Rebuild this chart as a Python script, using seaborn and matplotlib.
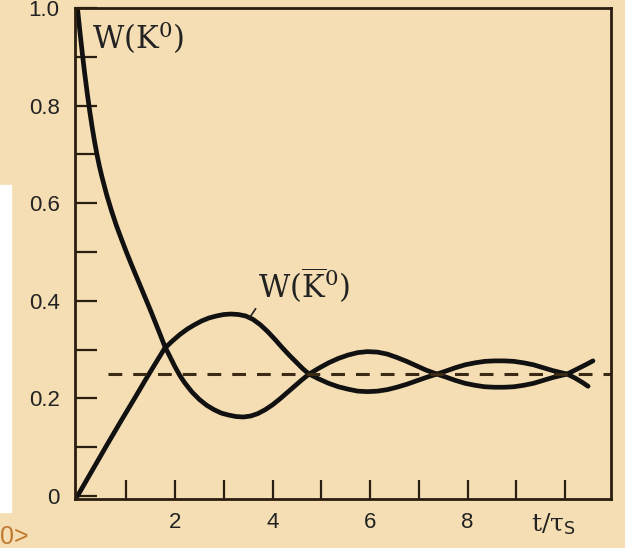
import numpy as np
import pandas as pd
import matplotlib
matplotlib.use("Agg")
import matplotlib.pyplot as plt
from matplotlib.patches import Rectangle
import seaborn as sns

# values (t in units of tau_S)
t_k0 = [0.0, 0.05, 0.1, 0.15, 0.2, 0.25, 0.3, 0.35, 0.4, 0.45, 0.5, 0.6, 0.7, 0.8, 0.9, 1.0,
        1.1, 1.2, 1.3, 1.4, 1.5, 1.6, 1.7, 1.79, 1.9, 2.0, 2.1, 2.2, 2.35, 2.5, 2.65,
        2.8, 2.95, 3.1, 3.25, 3.4, 3.55, 3.7, 3.85, 4.0, 4.15, 4.3, 4.45, 4.6, 4.75,
        4.95, 5.15, 5.35, 5.55, 5.75, 5.95, 6.15, 6.35, 6.55, 6.75, 6.95, 7.15, 7.37,
        7.55, 7.75, 7.95, 8.15, 8.35, 8.55, 8.75, 8.95, 9.15, 9.35, 9.55, 9.75, 10.04,
        10.2, 10.4, 10.57]
w_k0 = [1.0, 0.952, 0.907, 0.865, 0.826, 0.79, 0.757, 0.727, 0.70, 0.676, 0.655, 0.617, 0.584, 0.554, 0.527, 0.501,
        0.476, 0.452, 0.428, 0.404, 0.38, 0.355, 0.33, 0.307, 0.285, 0.265, 0.247, 0.232, 0.213, 0.198, 0.186,
        0.177, 0.17, 0.166, 0.163, 0.162, 0.164, 0.169, 0.177, 0.187, 0.199, 0.212, 0.225, 0.238, 0.25,
        0.262, 0.273, 0.282, 0.289, 0.294, 0.296, 0.295, 0.291, 0.284, 0.276, 0.267, 0.258, 0.25,
        0.244, 0.237, 0.231, 0.227, 0.224, 0.223, 0.223, 0.224, 0.227, 0.231, 0.237, 0.243, 0.25,
        0.258, 0.268, 0.277]

t_k0bar = [0.0, 0.3, 0.6, 0.9, 1.2, 1.4, 1.6, 1.79, 1.95, 2.1, 2.25, 2.4, 2.55, 2.7, 2.85, 3.0,
           3.15, 3.3, 3.45, 3.6, 3.75, 3.9, 4.05, 4.2, 4.35, 4.5, 4.62, 4.75,
           4.95, 5.15, 5.35, 5.55, 5.75, 5.95, 6.15, 6.35, 6.55, 6.75, 6.95, 7.15, 7.37,
           7.55, 7.75, 7.95, 8.15, 8.35, 8.55, 8.75, 8.95, 9.15, 9.35, 9.55, 9.75, 10.04,
           10.2, 10.35, 10.47]
w_k0bar = [0.0, 0.052, 0.104, 0.155, 0.205, 0.239, 0.272, 0.303, 0.318, 0.331, 0.342, 0.351, 0.359, 0.365, 0.369, 0.372,
           0.373, 0.372, 0.369, 0.362, 0.351, 0.337, 0.321, 0.304, 0.288, 0.273, 0.261, 0.25,
           0.24, 0.231, 0.224, 0.219, 0.215, 0.214, 0.215, 0.218, 0.223, 0.229, 0.236, 0.243, 0.25,
           0.256, 0.263, 0.269, 0.273, 0.276, 0.277, 0.277, 0.276, 0.273, 0.269, 0.263, 0.257, 0.25,
           0.242, 0.233, 0.225]

w_limit = 0.25
x_ticks = [1, 2, 3, 4, 5, 6, 7, 8, 9, 10]
x_labels = ["", "2", "", "4", "", "6", "", "8", "", ""]
y_ticks = [0, 0.1, 0.2, 0.3, 0.4, 0.5, 0.6, 0.7, 0.8, 0.9, 1.0]
y_labels = ["0", "", "0.2", "", "0.4", "", "0.6", "", "0.8", "", "1.0"]

bg = "#f5deb3"
ink = "#2a1e10"

sns.set_style("ticks")
plt.rcParams["mathtext.fontset"] = "dejavuserif"

fig = plt.figure(figsize=(6.25, 5.48), dpi=100, facecolor=bg)
ax = fig.add_axes([0.12, 0.0894, 0.8576, 0.896])
ax.set_facecolor(bg)

k0 = pd.DataFrame({"t": t_k0, "W": w_k0})
k0bar = pd.DataFrame({"t": t_k0bar, "W": w_k0bar})
sns.lineplot(data=k0, x="t", y="W", ax=ax, color="#111111", lw=3.4, sort=False,
             estimator=None, solid_capstyle="round", solid_joinstyle="round")
sns.lineplot(data=k0bar, x="t", y="W", ax=ax, color="#111111", lw=3.4, sort=False,
             estimator=None, solid_capstyle="round", solid_joinstyle="round")
ax.plot([0.63, 10.94], [w_limit, w_limit], color="#3b2a14", lw=2.2, dashes=(4.5, 3.6))

ax.set_xlim(-0.05, 10.94)
ax.set_ylim(-0.006, 1.0)
ax.set_xticks(x_ticks)
ax.set_xticklabels(x_labels)
ax.set_yticks(y_ticks)
ax.set_yticklabels(y_labels)
ax.set_xlabel("")
ax.set_ylabel("")

for s in ax.spines.values():
    s.set_visible(True)
    s.set_color(ink)
    s.set_linewidth(2)
ax.tick_params(axis="y", direction="in", length=16, width=1.6, color=ink, pad=11,
               labelsize=16, labelcolor="#222222")
ax.tick_params(axis="x", direction="in", length=14, width=1.6, color=ink, pad=9,
               labelsize=16, labelcolor="#222222")
for lab in ax.get_xticklabels() + ax.get_yticklabels():
    lab.set_family("Liberation Sans")

# axis name sits in the place of the last tick label
ax.annotate("t/\u03c4$_{\\mathsf{S}}$", xy=(9.75, 0), xycoords=("data", "axes fraction"),
            xytext=(0, -9), textcoords="offset points", ha="center", va="top",
            fontsize=18, family="DejaVu Serif", color="#222222")

ax.text(0.30, 0.916, "W(K$^{\\mathrm{0}}$)", family="DejaVu Serif", fontsize=22,
        color="#222222", ha="left", va="baseline")
ax.annotate("W($\\overline{\\mathrm{K}}^{\\mathrm{0}}$)", xy=(3.52, 0.364), xytext=(3.70, 0.405),
            family="DejaVu Serif", fontsize=22, color="#222222", ha="left", va="baseline",
            arrowprops=dict(arrowstyle="-", color="#222222", lw=1.2, shrinkA=0, shrinkB=0,
                            relpos=(0.0, 0.0)))

# white strip and cropped glyph at left edge of the scan
fig.patches.append(Rectangle((0, 0.0657), 0.0176, 0.596, transform=fig.transFigure,
                             color="white", zorder=0))
fig.text(0.0, 0.008, "0>", color="#c07a30", fontsize=18, family="Liberation Sans")

fig.savefig("out.png", dpi=100, facecolor=bg)
